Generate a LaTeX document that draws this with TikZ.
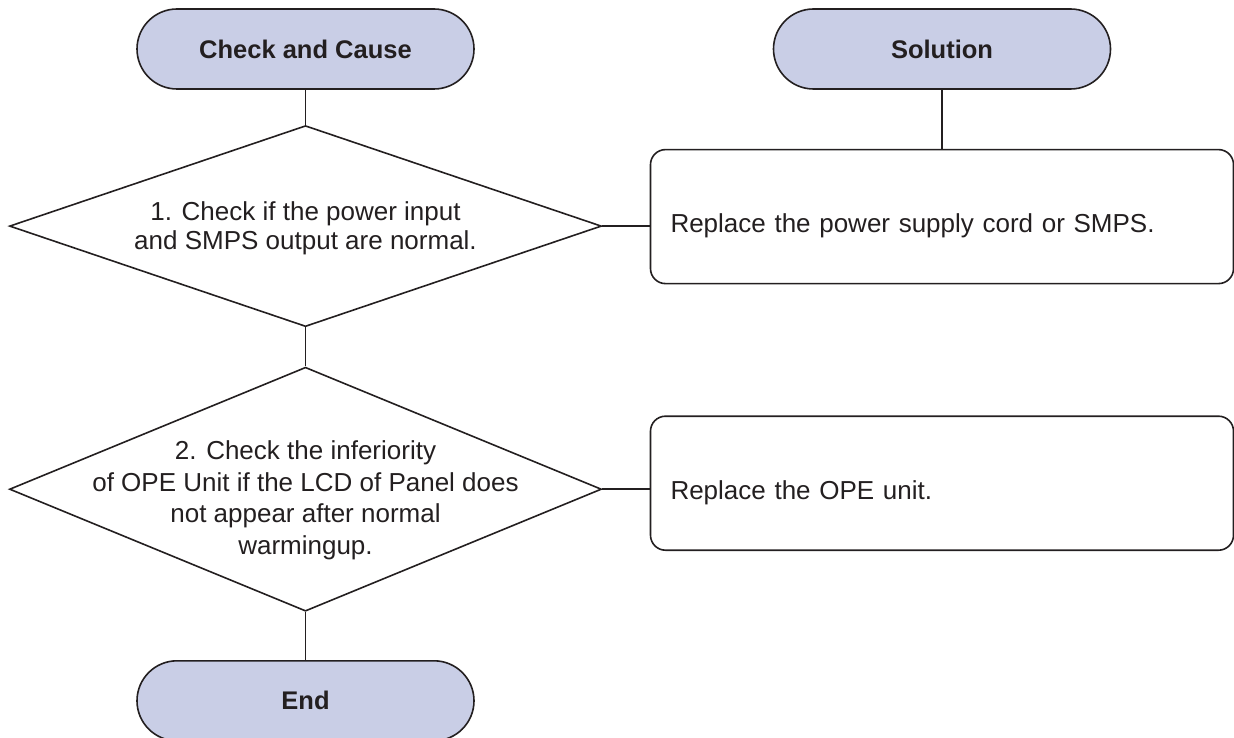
\documentclass[tikz,border=0pt]{standalone}
\usepackage{fontspec}
\setmainfont{Liberation Sans}
\usepackage{xcolor}
\usepackage{tikz}
\usetikzlibrary{positioning,shapes.geometric}
\definecolor{termbg}{RGB}{201,206,230}
\definecolor{ink}{RGB}{35,31,32}

\begin{document}
\begin{tikzpicture}[x=1pt,y=1pt,line width=1.6pt,draw=ink,
    every node/.style={font=\fontsize{26}{29}\selectfont,text=ink},
    term/.style={draw,fill=termbg,rounded corners=40pt,minimum width=337pt,minimum height=80pt,font=\fontsize{25.5}{29}\selectfont\bfseries},
    decision/.style={draw,diamond,inner sep=0pt,minimum width=592pt},
    fixbox/.style={draw,rounded corners=15pt,minimum width=583pt,minimum height=134pt,text width=543pt,inner xsep=20pt,align=left,text height=38pt,text depth=6pt}]
  \useasboundingbox (0,0) rectangle (1234,-738);
  \node[term] (cc) at (305.5,-49) {Check and Cause};
  \node[term] (sol) at (942,-49) {Solution};
  \node[decision,minimum height=201pt,below=35pt of cc] (d1) {};
  \node[align=center] (d1txt) at ([yshift=-2pt]d1.center) {1. Check if the power input\\and SMPS output are normal.};
  \node[decision,minimum height=244pt,below=39pt of d1] (d2) {};
  \node[align=center,font=\fontsize{26}{31.5}\selectfont] (d2txt) at ([yshift=-11pt]d2.center)
    {2. Check the inferiority\\of OPE Unit if the LCD of Panel does\\not appear after normal\\warmingup.};
  \node[term,below=48pt of d2] (end) {End};
  \node[fixbox,below=59pt of sol] (fix1) {Replace the power supply cord or SMPS.};
  \node[fixbox,below=131pt of fix1] (fix2) {Replace the OPE unit.};
  \draw (cc) -- (d1);
  \draw (d1) -- (d2);
  \draw (d2) -- (end);
  \draw (sol) -- (fix1);
  \draw (d1.east) -- (d1.east -| fix1.west);
  \draw (d2.east) -- (d2.east -| fix2.west);
\end{tikzpicture}
\end{document}
